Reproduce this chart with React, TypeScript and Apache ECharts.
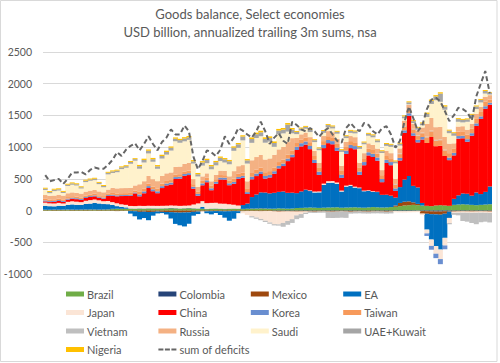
import { useEffect, useRef } from "react";
import * as echarts from "echarts";

// Quarterly periods (x axis, unlabeled in the chart)
const categories: string[] = [];
for (let y = 2000; y < 2025; y++) for (let q = 1; q <= 4; q++) categories.push(`${y}Q${q}`);

const yTicks = { min: -1000, max: 2500, interval: 500 };

const brazil = [
  10,10,12,10,12,14,12,10,12,14, 15,14,12,14,16,22,25,24,26,28,
  25,30,28,32,30,28,30,32,35,33, 30,32,35,30,28,25,22,25,28,25,
  22,25,28,25,22,25,28,30,32,30, 28,30,35,32,30,32,40,42,45,48,
  45,42,45,48,50,52,45,48,50,52, 48,45,50,55,52,48,50,55,60,70,
  80,85,90,85,80,75,70,80,85,80, 75,90,95,100,95,90,85,90,95,100,
];
const colombia = [
  5,4,5,6,5,4,5,5,6,5, 5,6,5,4,5,6,5,5,4,5,
  6,5,5,4,5,6,5,5,6,5, 4,5,5,6,5,4,5,6,5,5,
  6,5,4,5,5,6,5,4,5,5, 4,-4,-5,-5,-6,-5,-4,-5,-6,-5,
  -5,-4,-5,-6,-5,-5,-4,-5,-6,-5, -5,-6,-5,-4,-5,-5,-6,-5,-8,-10,
  -10,-8,-6,-5,-8,-10,-12,-15,-15,-10, -6,-5,-5,-6,-5,-4,-5,-6,-5,-5,
];
const mexico = [
  -5,-4,-6,-5,-5,-4,-6,-5,-5,-6, -5,-4,-6,-5,-5,-6,-8,-6,-5,-8,
  -10,-20,-18,-22,-20,-15,-20,-22,-25,-30, -32,-30,-28,-20,-15,-10,-12,-10,-8,-10,
  -12,-10,-8,-10,-12,-10,-8,-10,-12,-10, -8,-10,-12,-10,-8,-10,-12,-10,-8,-10,
  -12,-10,-8,-10,-12,-10,-8,-10,-12,-10, -8,-10,-12,-10,-8,-10,-12,-10,20,50,
  60,60,40,20,-40,-40,-45,-45,-50,-40, -10,-12,-10,-8,-10,-12,-10,-8,-10,-12,
];
const ea = [
  60,55,50,60,55,70,80,75,70,85, 90,100,95,85,80,60,40,30,20,-40,
  -80,-120,-100,-130,-60,-30,-20,-40,-100,-180, -200,-220,-180,-60,-40,30,-30,-50,-30,-60,
  -100,-150,-120,-30,60,80,180,220,250,250, 240,250,260,270,250,250,235,260,285,260,
  240,245,360,390,390,370,255,330,340,310, 305,260,260,240,240,200,200,180,125,250,
  350,400,260,260,40,-250,-400,-500,-550,-380, -100,95,145,170,170,145,200,170,200,280,
];
const japan = [
  50,45,45,45,40,50,50,50,45,50, 55,55,50,45,50,45,45,40,40,40,
  40,40,40,40,40,40,40,40,40,40, 40,40,40,60,80,90,90,90,90,80,
  80,70,60,50,-30,-60,-80,-100,-120,-150, -180,-200,-200,-180,-150,-120,-60,-40,-20,10,
  15,15,20,25,25,20,15,15,15,15, 10,10,10,10,5,0,0,0,-20,-20,
  -20,-20,-20,-20,-20,-60,-100,-120,-150,-120, -80,-20,-20,-20,-20,-20,-20,-20,-20,-20,
];
const china = [
  20,20,25,30,25,35,40,40,35,45, 50,50,40,40,80,100,110,130,140,160,
  200,150,200,280,230,200,280,320,330,420, 430,470,480,250,120,250,330,200,300,380,
  380,300,330,420,430,150,280,290,290,220, 250,300,370,400,500,560,680,710,710,650,
  450,260,560,600,580,500,200,500,580,590, 200,400,550,540,490,200,500,480,105,420,
  735,950,790,710,1000,990,1090,935,935,780, 720,685,895,870,820,945,1050,1185,1310,1290,
];
const korea = [
  15,15,15,15,15,15,15,15,15,15, 15,15,15,15,15,15,15,15,15,15,
  15,30,30,30,30,30,30,30,30,30, 30,30,30,30,30,30,30,30,30,30,
  30,30,30,30,30,30,40,40,40,40, 40,40,40,40,40,40,50,50,50,50,
  50,50,50,50,50,50,50,50,50,50, 50,50,50,50,50,50,50,50,40,40,
  40,40,40,40,40,-40,-60,-70,-80,-60, 40,40,40,40,40,40,40,40,40,30,
];
const taiwan = [
  25,25,25,25,25,25,25,25,25,25, 25,25,25,25,25,30,30,30,30,30,
  30,40,40,40,40,40,40,40,40,40, 40,40,40,40,40,40,40,40,40,40,
  40,40,50,50,50,50,60,60,60,60, 60,60,60,60,60,60,60,60,60,60,
  60,60,60,60,60,60,60,60,60,60, 60,60,60,60,60,60,60,60,60,60,
  60,60,60,60,60,90,90,90,90,90, 70,70,70,70,70,70,70,70,70,50,
];
const vietnam = [
  0,0,0,0,0,0,0,0,0,0, 0,0,0,0,0,0,0,0,0,0,
  0,0,0,0,0,0,0,0,0,0, 0,0,0,0,0,0,0,0,0,0,
  0,0,0,0,0,0,-20,-20,-20,-20, -20,-20,-20,-60,-60,-60,-60,-60,-20,-20,
  -20,-20,-20,-100,-100,-100,-100,-100,-30,-30, -30,-30,-30,-30,-30,-30,-30,-30,10,10,
  10,10,10,10,10,10,10,10,10,10, -20,-30,-40,-130,-140,-160,-180,-150,-140,-150,
];
const russia = [
  60,60,60,60,60,60,60,60,60,60, 60,60,60,60,60,80,80,80,80,80,
  80,120,120,120,120,120,120,120,120,120, 120,120,120,80,70,70,70,70,70,70,
  70,70,120,120,120,120,200,200,200,200, 200,200,200,200,200,200,80,80,80,80,
  80,80,80,80,80,80,80,80,80,80, 80,80,80,80,80,80,80,80,80,80,
  80,60,80,80,80,200,200,200,200,200, 150,80,80,80,80,80,80,80,80,70,
];
const saudi = [
  80,40,70,65,40,115,120,115,80,150, 155,155,115,80,240,235,255,300,320,380,
  390,245,295,355,275,195,275,295,345,405, 375,355,365,245,165,170,160,190,150,150,
  130,190,320,290,390,280,275,300,295,265, 265,125,235,215,165,75,60,60,60,80,
  140,200,50,60,60,80,220,60,50,60, 220,140,120,120,100,270,80,100,245,45,
  40,10,10,10,35,110,220,425,395,430, 165,120,75,60,125,100,75,70,50,10,
];
const uaeKuwait = [
  20,20,22,20,18,20,22,20,20,22, 20,22,20,20,25,25,25,28,25,28,
  25,40,40,42,40,38,40,42,45,40, 42,45,40,35,35,50,50,48,50,52,
  50,48,50,55,60,50,60,60,62,60, 58,60,62,60,110,60,35,32,30,35,
  30,28,30,35,32,30,28,30,32,30, 30,28,30,32,30,28,30,32,30,30,
  30,32,30,30,30,50,50,60,130,50, 40,40,42,40,38,40,42,40,40,30,
];
const nigeria = [
  15,15,15,15,15,15,15,15,15,15, 15,15,15,15,15,15,15,15,15,15,
  15,20,20,20,20,20,20,20,20,20, 20,20,20,20,20,20,20,20,20,20,
  20,20,20,20,20,20,25,25,25,25, 25,25,25,25,25,25,15,15,15,15,
  15,15,15,15,15,15,15,15,15,15, 15,15,15,15,15,15,15,15,15,15,
  15,15,15,15,15,20,20,20,20,20, 15,15,15,15,15,15,15,15,15,10,
];
const sumOfDeficits = [
  560,460,480,500,420,500,600,600,610,570, 640,680,660,660,720,800,920,860,960,1020,
  1060,950,1050,1170,1050,950,1080,1150,1280,1200, 1200,1340,1250,850,650,780,950,920,860,960,
  1170,1050,1150,1300,1260,1200,1150,1250,1400,1250, 1050,1150,1220,1100,1050,1400,1350,1280,1250,1300,
  1250,1160,1250,1300,1200,1100,1070,1300,1380,1300, 1250,1380,1350,1250,1200,1300,1330,1200,990,1100,
  1400,1640,1450,1250,1350,1600,1750,1780,1720,1570, 1410,1500,1620,1600,1550,1420,1800,2000,2200,1850,
];

const stackSeries: { name: string; data: number[]; color: string }[] = [
  { name: "Brazil", data: brazil, color: "#70AD47" },
  { name: "Colombia", data: colombia, color: "#264478" },
  { name: "Mexico", data: mexico, color: "#9E480E" },
  { name: "EA", data: ea, color: "#0070C0" },
  { name: "Japan", data: japan, color: "#FBE5D6" },
  { name: "China", data: china, color: "#FF0000" },
  { name: "Korea", data: korea, color: "#698ED0" },
  { name: "Taiwan", data: taiwan, color: "#F79A5B" },
  { name: "Vietnam", data: vietnam, color: "#BFBFBF" },
  { name: "Russia", data: russia, color: "#F4B183" },
  { name: "Saudi", data: saudi, color: "#FFF2CC" },
  { name: "UAE+Kuwait", data: uaeKuwait, color: "#A5A5A5" },
  { name: "Nigeria", data: nigeria, color: "#FFC000" },
];

const legendColumns = [
  ["Brazil", "Japan", "Vietnam", "Nigeria"],
  ["Colombia", "China", "Russia"],
  ["Mexico", "Korea", "Saudi"],
  ["EA", "Taiwan", "UAE+Kuwait"],
];
const lineName = "sum of deficits";

const titleLines = ["Goods balance, Select economies", "USD billion, annualized trailing 3m sums, nsa"];

const FONT = "Lato, 'Open Sans', sans-serif";
const TEXT = "#595959";
const LINE_COLOR = "#666666";

export default function App() {
  const ref = useRef<HTMLDivElement>(null);
  useEffect(() => {
    document.body.style.margin = "0";
    if (!ref.current) return;
    const chart = echarts.init(ref.current, undefined, { renderer: "svg" });
    const legendText = { color: TEXT, fontSize: 11, fontFamily: FONT, lineHeight: 14, padding: [0, 0, 0, -2] };
    chart.setOption({
      animation: false,
      backgroundColor: "#FFFFFF",
      textStyle: { fontFamily: FONT },
      title: titleLines.map((t, i) => ({
        text: t,
        left: "center",
        top: 7 + i * 18,
        padding: 0,
        textStyle: { color: TEXT, fontSize: 13, fontWeight: "normal", fontFamily: FONT },
      })),
      graphic: [
        {
          type: "rect",
          shape: { x: 0.5, y: 0.5, width: 496.5, height: 361 },
          style: { fill: "none", stroke: "#D9D9D9", lineWidth: 1 },
          silent: true,
          z: -1,
        },
      ],
      legend: [
        ...legendColumns.map((names, c) => ({
          orient: "vertical",
          left: 66 + c * 92.4,
          top: 287,
          height: 76,
          padding: 0,
          itemWidth: 18,
          itemHeight: 5,
          itemGap: 4.5,
          selectedMode: false,
          icon: "rect",
          data: names,
          textStyle: legendText,
        })),
        {
          orient: "vertical",
          left: 66 + 92.4,
          top: 287 + 3 * 18.5,
          padding: 0,
          itemWidth: 18,
          itemHeight: 2,
          selectedMode: false,
          data: [
            {
              name: lineName,
              icon: "path://M0,0h5v2h-5z M6.5,0h5v2h-5z M13,0h5v2h-5z",
              itemStyle: { color: LINE_COLOR },
            },
          ],
          textStyle: legendText,
        },
      ],
      grid: { left: 43, right: 8, top: 52, bottom: 89 },
      xAxis: {
        type: "category",
        data: categories,
        axisLabel: { show: false },
        axisTick: { show: false },
        axisLine: { show: false },
        splitLine: { show: false },
      },
      yAxis: {
        type: "value",
        min: yTicks.min,
        max: yTicks.max,
        interval: yTicks.interval,
        axisLabel: { color: TEXT, fontSize: 10.5, margin: 11, fontFamily: FONT, formatter: (v: number) => String(v) },
        axisLine: { show: false },
        axisTick: { show: false },
        splitLine: { lineStyle: { color: "#D9D9D9", width: 1 } },
      },
      series: [
        ...stackSeries.map((s) => ({
          name: s.name,
          type: "bar",
          stack: "goods",
          data: s.data,
          barWidth: 5,
          itemStyle: { color: s.color, borderWidth: 0 },
          emphasis: { disabled: true },
        })),
        {
          name: lineName,
          type: "line",
          data: sumOfDeficits,
          symbol: "none",
          showSymbol: false,
          z: 5,
          itemStyle: { color: LINE_COLOR },
          lineStyle: { color: LINE_COLOR, width: 2, type: [5, 3] },
          emphasis: { disabled: true },
        },
      ],
    });
    return () => chart.dispose();
  }, []);
  return <div ref={ref} style={{ width: 500, height: 363 }} />;
}
